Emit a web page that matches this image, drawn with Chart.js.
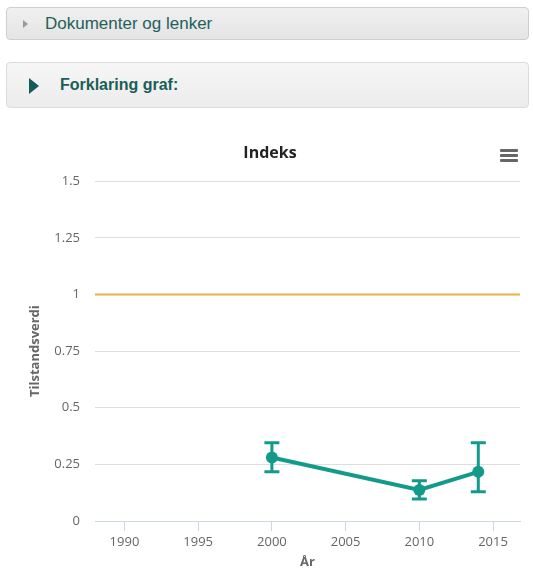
<!DOCTYPE html>
<html>
<head>
<meta charset="utf-8">
<script src="https://cdn.jsdelivr.net/npm/chart.js@4/dist/chart.umd.min.js"></script>
<style>
  html, body { margin: 0; padding: 0; background: #fff; width: 533px; height: 574px; overflow: hidden; }
  .panel { position: absolute; left: 6px; width: 523px; box-sizing: border-box; border: 1px solid #cfcfcf; border-radius: 4px; font-family: "Liberation Sans", Arial, sans-serif; }
  #p1 { top: 7px; height: 33px; background: linear-gradient(#f0f0f0, #e4e4e4); }
  #p2 { top: 62px; height: 46px; background: linear-gradient(#f6f6f6, #ececec); border-color: #dcdcdc; }
  #p1 .tri { position: absolute; left: 16px; top: 12px; width: 0; height: 0; border-top: 4px solid transparent; border-bottom: 4px solid transparent; border-left: 5px solid #9a9a9a; }
  #p1 .txt { position: absolute; left: 38px; top: 6px; font-size: 17px; color: #24605a; }
  #p2 .tri { position: absolute; left: 22px; top: 15px; width: 0; height: 0; border-top: 8px solid transparent; border-bottom: 8px solid transparent; border-left: 10px solid #145c55; }
  #p2 .txt { position: absolute; left: 53px; top: 13px; font-size: 16px; font-weight: bold; color: #1b5e57; }
  #menu { position: absolute; left: 500px; top: 148px; width: 18px; height: 16px; }
  #menu div { position: absolute; left: 0; width: 18px; height: 3px; background: #666; border-radius: 1px; }
  #c { position: absolute; left: 0; top: 130px; }
</style>
</head>
<body>
<div class="panel" id="p1"><div class="tri"></div><div class="txt">Dokumenter og lenker</div></div>
<div class="panel" id="p2"><div class="tri"></div><div class="txt">Forklaring graf:</div></div>
<canvas id="c" width="533" height="444"></canvas>
<div id="menu"><div style="top:1px"></div><div style="top:6px"></div><div style="top:11px"></div></div>
<script>
const years = [2000, 2010, 2014];
const values = [0.28, 0.137, 0.217];
const lowValues = [0.217, 0.097, 0.129];
const highValues = [0.345, 0.178, 0.345];
const referenceValue = 1;
const xTickLabels = [1990, 1995, 2000, 2005, 2010, 2015];
const yTickLabels = [0, 0.25, 0.5, 0.75, 1, 1.25, 1.5];

const teal = '#139a8b';
const orange = '#e8b040';

const errorBarPlugin = {
  id: 'errorBars',
  beforeDatasetsDraw(chart) {
    const { ctx, scales: { y }, chartArea } = chart;
    ctx.save();
    const py = y.getPixelForValue(referenceValue);
    ctx.strokeStyle = orange;
    ctx.lineWidth = 2;
    ctx.beginPath();
    ctx.moveTo(chartArea.left, py);
    ctx.lineTo(chartArea.right, py);
    ctx.stroke();
    ctx.restore();
  },
  afterDatasetsDraw(chart) {
    const { ctx, scales: { x, y } } = chart;
    ctx.save();
    ctx.strokeStyle = teal;
    ctx.lineWidth = 3;
    ctx.lineCap = 'butt';
    years.forEach((yr, i) => {
      const px = x.getPixelForValue(yr);
      const lo = y.getPixelForValue(lowValues[i]);
      const hi = y.getPixelForValue(highValues[i]);
      const w = 7.5;
      ctx.beginPath();
      ctx.moveTo(px, lo); ctx.lineTo(px, hi);
      ctx.moveTo(px - w, lo); ctx.lineTo(px + w, lo);
      ctx.moveTo(px - w, hi); ctx.lineTo(px + w, hi);
      ctx.stroke();
    });
    ctx.restore();
  }
};

new Chart(document.getElementById('c'), {
  type: 'line',
  data: {
    datasets: [{
      label: 'Indeks',
      data: years.map((yr, i) => ({ x: yr, y: values[i] })),
      borderColor: teal,
      backgroundColor: teal,
      borderWidth: 4,
      pointRadius: 6,
      pointHoverRadius: 6,
      pointBackgroundColor: teal,
      pointBorderWidth: 0,
      tension: 0
    }]
  },
  options: {
    responsive: false,
    animation: false,
    devicePixelRatio: 1,
    layout: { padding: { left: 20, right: 13, top: 0, bottom: 0 } },
    plugins: {
      legend: { display: false },
      tooltip: { enabled: false },
      title: {
        display: true,
        text: 'Indeks',
        color: '#222',
        font: { family: '"Open Sans", sans-serif', size: 16, weight: 'bold' },
        padding: { top: 14, bottom: 18 }
      }
    },
    scales: {
      x: {
        type: 'linear',
        min: 1988,
        max: 2016.83,
        afterBuildTicks(scale) { scale.ticks = xTickLabels.map(v => ({ value: v })); },
        afterFit(scale) { scale.height = 53; },
        ticks: {
          color: '#666',
          font: { family: '"Open Sans", sans-serif', size: 13 },
          padding: 3,
          maxRotation: 0,
          autoSkip: false,
          callback: v => String(v)
        },
        grid: { drawOnChartArea: false, drawTicks: true, tickLength: 10, color: '#ccd6eb', lineWidth: 1 },
        border: { display: true, color: '#ccd6eb', width: 1 },
        title: {
          display: true,
          text: 'År',
          color: '#666',
          font: { family: '"Open Sans", sans-serif', size: 13, weight: 'bold' },
          padding: { top: 0, bottom: 4 }
        }
      },
      y: {
        type: 'linear',
        min: 0,
        max: 1.5,
        afterBuildTicks(scale) { scale.ticks = yTickLabels.map(v => ({ value: v })); },
        afterFit(scale) { scale.width = 75; },
        ticks: {
          color: '#666',
          font: { family: '"Open Sans", sans-serif', size: 13 },
          padding: 15,
          callback: v => String(v)
        },
        grid: { drawTicks: false, color: '#dedede', lineWidth: 1 },
        border: { display: false },
        title: {
          display: true,
          text: 'Tilstandsverdi',
          color: '#666',
          font: { family: '"Open Sans", sans-serif', size: 13, weight: 'bold' },
          padding: { top: 7, bottom: 0 }
        }
      }
    }
  },
  plugins: [errorBarPlugin]
});
</script>
</body>
</html>
